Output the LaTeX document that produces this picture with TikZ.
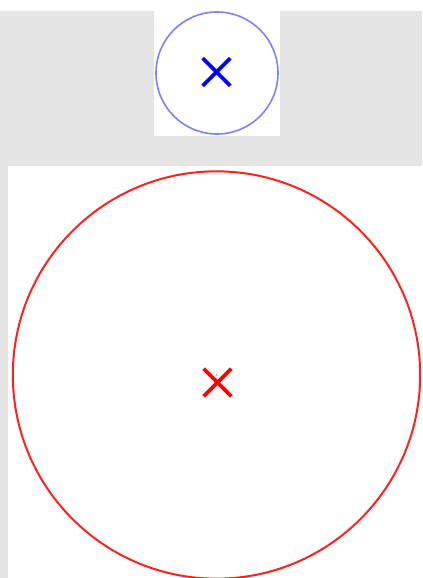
\documentclass[tikz,border=0pt]{standalone}
\usepackage{tikz}
\usepackage{xcolor}
\usetikzlibrary{positioning,shapes.misc}
\definecolor{panel}{HTML}{E5E5E5}
\definecolor{lens}{HTML}{8080FF}
\definecolor{focus}{HTML}{FF2020}

\begin{document}
\begin{tikzpicture}[x=0.75pt,y=-0.75pt]
    \tikzstyle{ring}=[circle,draw,inner sep=0pt];
    \tikzstyle{xmark}=[cross out,draw,minimum size=18pt,inner sep=0pt,line width=2.8pt];
    \useasboundingbox (0,0) rectangle (422,578);

    % backgrounds
    \fill[panel] (0,11) rectangle (422,166);
    \fill[panel] (0,166) rectangle (8,578);
    \fill[white] (154,11) rectangle (280,136);

    % top: small circle
    \node[ring,draw=lens,line width=1.2pt,minimum size=91.5pt] (small) at (217,73) {};
    \node[xmark,draw=blue] (smallx) at (216.5,72) {};

    % bottom: large circle
    \node[ring,draw=focus,line width=1.5pt,minimum size=305.5pt] (big) at (216.5,375) {};
    \fill[focus!45] (big.center) circle (1.2);
    \node[xmark,draw=red] (bigx) at (217.5,382.5) {};
\end{tikzpicture}
\end{document}
